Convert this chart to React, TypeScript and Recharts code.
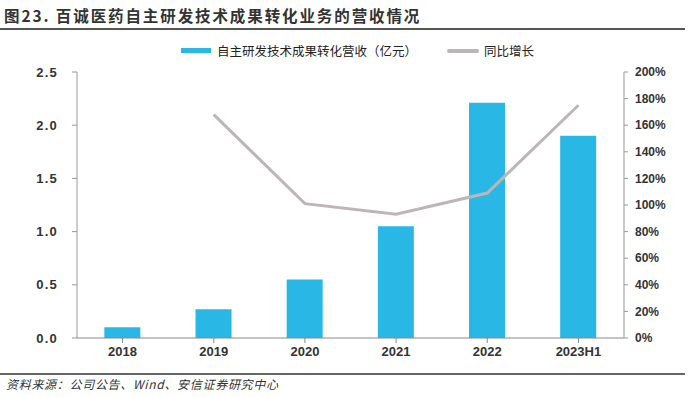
import React from 'react';
import { ComposedChart, Bar, Line, XAxis, YAxis } from 'recharts';

const categories = ['2018', '2019', '2020', '2021', '2022', '2023H1'];
const revenue = [0.1, 0.27, 0.55, 1.05, 2.21, 1.9];
const growth: (number | null)[] = [null, 168, 101, 93, 109, 175];
const leftTicks = [0, 0.5, 1.0, 1.5, 2.0, 2.5];
const rightTicks = [0, 20, 40, 60, 80, 100, 120, 140, 160, 180, 200];

const title = '图23. 百诚医药自主研发技术成果转化业务的营收情况';
const barName = '自主研发技术成果转化营收（亿元）';
const lineName = '同比增长';
const source = '资料来源：公司公告、Wind、安信证券研究中心';

const data = categories.map((c, i) => ({ name: c, revenue: revenue[i], growth: growth[i] }));

const BAR_COLOR = '#29B8E6';
const LINE_COLOR = '#BEB6B6';
const CJK = '"Noto Sans CJK SC", "Noto Sans", sans-serif';
const TICK = { fontSize: 12.5, fill: '#333', fontFamily: '"Liberation Sans", Arial, sans-serif', fontWeight: 600 };

export default function App() {
  return (
    <div style={{ position: 'absolute', left: 0, top: 0, width: 700, height: 397, background: '#fff', overflow: 'hidden' }}>
      <div style={{ position: 'absolute', left: 4, top: 5, fontFamily: CJK, fontSize: 15.5, fontWeight: 600, letterSpacing: 1.9, color: '#333', whiteSpace: 'nowrap', lineHeight: '20px' }}>
        {title}
      </div>
      <div style={{ position: 'absolute', left: 0, top: 28, width: 685, height: 2, background: '#555' }} />
      <div style={{ position: 'absolute', left: 181, top: 41, display: 'flex', alignItems: 'center', fontFamily: CJK, fontSize: 12.5, color: '#222', whiteSpace: 'nowrap' }}>
        <span style={{ display: 'inline-block', width: 30, height: 5, background: BAR_COLOR, marginRight: 6 }} />
        <span>{barName}</span>
        <span style={{ display: 'inline-block', width: 32, height: 4, background: LINE_COLOR, marginLeft: 30, marginRight: 5, borderRadius: 2 }} />
        <span>{lineName}</span>
      </div>
      <div style={{ position: 'absolute', left: 0, top: 0 }}>
        <ComposedChart width={700} height={397} data={data} margin={{ top: 72, right: 26, bottom: 29, left: 27 }} barCategoryGap="30%">
          <XAxis dataKey="name" tick={{ ...TICK, fontSize: 13 }} axisLine={{ stroke: '#888' }} tickLine={{ stroke: '#888' }} tickSize={5} tickMargin={4} height={30} interval={0} />
          <YAxis yAxisId="left" domain={[0, 2.5]} ticks={leftTicks} tickFormatter={(v: number) => v.toFixed(1)} tick={{ ...TICK, fontSize: 13, letterSpacing: 1.2 }} axisLine={{ stroke: '#999' }} tickLine={{ stroke: '#999' }} tickSize={5} tickMargin={14} width={50} />
          <YAxis yAxisId="right" orientation="right" domain={[0, 200]} ticks={rightTicks} tickFormatter={(v: number) => `${v}%`} tick={{ ...TICK, fontSize: 12 }} axisLine={{ stroke: '#999' }} tickLine={{ stroke: '#999' }} tickSize={4} tickMargin={7} width={50} />
          <Bar yAxisId="left" dataKey="revenue" fill={BAR_COLOR} isAnimationActive={false} />
          <Line yAxisId="right" dataKey="growth" stroke={LINE_COLOR} strokeWidth={3} dot={false} connectNulls isAnimationActive={false} />
        </ComposedChart>
      </div>
      <div style={{ position: 'absolute', left: 0, top: 373, width: 685, height: 2, background: '#666' }} />
      <div style={{ position: 'absolute', left: 6, top: 376, fontFamily: CJK, fontSize: 12, letterSpacing: 0.7, fontStyle: 'italic', color: '#333', whiteSpace: 'nowrap', lineHeight: '16px' }}>
        {source}
      </div>
    </div>
  );
}
